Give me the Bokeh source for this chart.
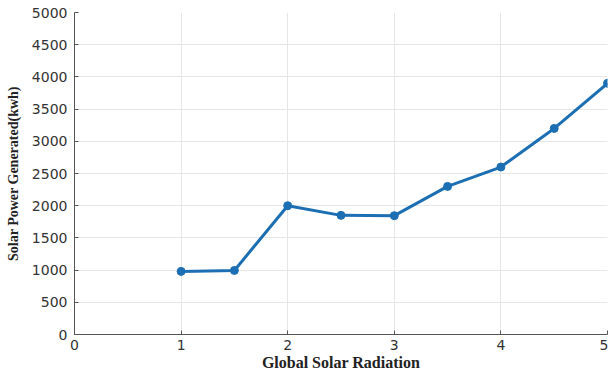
from bokeh.plotting import figure
from bokeh.models import Range1d, FixedTicker
from bokeh.embed import file_html
from bokeh.resources import INLINE

radiation = [1, 1.5, 2, 2.5, 3, 3.5, 4, 4.5, 5]
power = [980, 995, 2000, 1850, 1845, 2300, 2600, 3200, 3900]
x_ticks = [0, 1, 2, 3, 4, 5]
y_ticks = [0, 500, 1000, 1500, 2000, 2500, 3000, 3500, 4000, 4500, 5000]

p = figure(width=608, height=373, output_backend="svg", toolbar_location=None,
           x_range=Range1d(0, 5), y_range=Range1d(0, 5000),
           min_border_left=74, min_border_right=1, min_border_top=12, min_border_bottom=32)
p.outline_line_color = None
p.background_fill_color = "white"
p.border_fill_color = "white"

line_color = "#1c6fb2"
p.line(radiation, power, line_width=3, color=line_color)
p.scatter(radiation, power, size=8, color=line_color, marker="circle")

for ax in (p.xaxis[0], p.yaxis[0]):
    ax.axis_line_color = "#555555"
    ax.major_tick_line_color = "#555555"
    ax.major_tick_in = 4
    ax.major_tick_out = 0
    ax.minor_tick_line_color = None
    ax.major_label_text_font = "DejaVu Sans"
    ax.major_label_text_font_size = "14px"
    ax.major_label_text_color = "#333333"
    ax.axis_label_text_font = "Liberation Serif"
    ax.axis_label_text_font_style = "bold"
    ax.axis_label_text_color = "#222222"

p.xaxis.ticker = FixedTicker(ticks=x_ticks)
p.yaxis.ticker = FixedTicker(ticks=y_ticks)
p.xaxis.axis_label = "Global Solar Radiation"
p.yaxis.axis_label = "Solar Power Generated(kwh)"
p.xaxis.axis_label_text_font_size = "16px"
p.yaxis.axis_label_text_font_size = "14px"
p.xaxis.major_label_standoff = 5
p.xaxis.axis_label_standoff = 1
p.yaxis.major_label_standoff = 7
p.yaxis.axis_label_standoff = 8

p.xgrid.ticker = FixedTicker(ticks=x_ticks)
p.ygrid.ticker = FixedTicker(ticks=y_ticks)
p.grid.grid_line_color = "#e6e6e6"
p.grid.grid_line_width = 1

open("out.html", "w").write(file_html(p, INLINE))
